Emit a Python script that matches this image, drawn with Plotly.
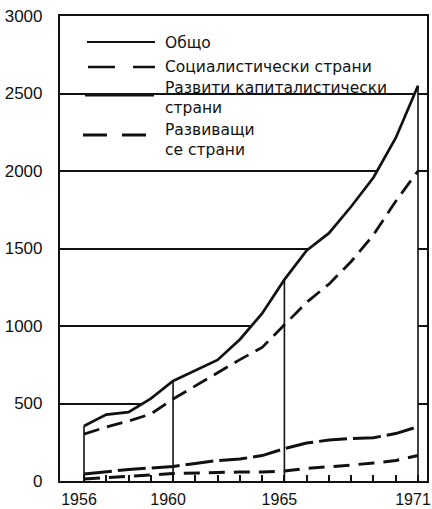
import plotly.graph_objects as go

# ---- data ----
years = list(range(1956, 1972))
total = [355, 428, 444, 532, 645, 715, 781, 913, 1081, 1299, 1488, 1599, 1771, 1958, 2213, 2550]
socialist = [303, 348, 387, 432, 529, 613, 700, 783, 862, 1008, 1153, 1270, 1416, 1588, 1805, 2000]
developed_cap = [45, 61, 74, 84, 94, 113, 132, 142, 164, 209, 245, 264, 274, 279, 306, 350]
developing = [13, 23, 32, 39, 48, 52, 52, 58, 58, 65, 81, 90, 103, 116, 132, 165]

series_names = ["Общо", "Социалистически страни",
                "Развити капиталистически<br>страни", "Развиващи<br>се страни"]
marked_years = [1956, 1960, 1965, 1971]
x_labels = {1956: "1956", 1960: "1960", 1965: "1965", 1971: "1971"}
y_ticks = [0, 500, 1000, 1500, 2000, 2500, 3000]

INK = "#111111"
W, H = 432, 509
PL, PR, PT, PB = 60, 427, 16, 481


def px2x(px):
    return (px - PL) / (PR - PL)


def py2y(py):
    return (PB - py) / (PB - PT)


fig = go.Figure()

# total with white fill (hides gridlines beneath the curve)
fig.add_trace(go.Scatter(x=years, y=total, mode="lines", fill="tozeroy",
                         fillcolor="white", line=dict(color=INK, width=2.7),
                         name=series_names[0], showlegend=False))

# vertical lines at the marked years, up to the total curve
vx, vy = [], []
for yr in marked_years:
    v = total[years.index(yr)]
    vx += [yr, yr, None]
    vy += [0, v, None]
fig.add_trace(go.Scatter(x=vx, y=vy, mode="lines", line=dict(color=INK, width=1.6),
                         showlegend=False, hoverinfo="skip"))

fig.add_trace(go.Scatter(x=years, y=socialist, mode="lines",
                         line=dict(color=INK, width=2.8, dash="16px,8px"),
                         name=series_names[1], showlegend=False))
fig.add_trace(go.Scatter(x=years, y=developed_cap, mode="lines",
                         line=dict(color=INK, width=3, dash="28px,6px"),
                         name=series_names[2], showlegend=False))
fig.add_trace(go.Scatter(x=years, y=developing, mode="lines",
                         line=dict(color=INK, width=3, dash="16px,9px"),
                         name=series_names[3], showlegend=False))

# ---- hand-built legend ----
shapes = [dict(type="rect", xref="paper", yref="paper",
               x0=px2x(78), x1=px2x(414), y0=py2y(163), y1=py2y(19),
               fillcolor="white", line=dict(width=0), layer="between")]
samples = [
    dict(x0=87, x1=155, y=42, width=2.2, dash="solid"),
    dict(x0=88, x1=155, y=67, width=2.6, dash="27px,18px"),
    dict(x0=85, x1=154, y=95, width=3.2, dash="solid"),
    dict(x0=83, x1=147, y=135, width=3.0, dash="24px,15px"),
]
for s in samples:
    shapes.append(dict(type="line", xref="paper", yref="paper",
                       x0=px2x(s["x0"]), x1=px2x(s["x1"]),
                       y0=py2y(s["y"]), y1=py2y(s["y"]),
                       line=dict(color=INK, width=s["width"], dash=s["dash"]),
                       layer="above"))

text_centres = [43, 67, 98.5, 139.5]
annotations = []
for txt, py in zip(series_names, text_centres):
    annotations.append(dict(text=txt, xref="paper", yref="paper",
                            x=px2x(164), y=py2y(py), xanchor="left", align="left",
                            yanchor="middle", showarrow=False, borderpad=0,
                            font=dict(family="DejaVu Sans", size=15.5, color=INK)))

fig.update_layout(
    width=W, height=H,
    margin=dict(l=PL, r=W - PR, t=PT, b=H - PB, autoexpand=False),
    paper_bgcolor="white", plot_bgcolor="white",
    showlegend=False,
    shapes=shapes, annotations=annotations,
    font=dict(family="Liberation Sans", size=17, color=INK),
)

x0 = 1956 - (84 - PL) / ((418 - 84) / 15)
x1 = 1971 + (PR - 418) / ((418 - 84) / 15)
fig.update_xaxes(range=[x0, x1], tickvals=years,
                 ticktext=[x_labels.get(y, "") for y in years],
                 tickfont=dict(size=16),
                 ticks="inside", ticklen=6, tickwidth=1.5, tickcolor=INK,
                 showgrid=False, zeroline=False, automargin=False,
                 showline=True, linewidth=2.2, linecolor=INK, mirror=True,
                 ticklabelshift=-5, ticklabeloverflow="allow",
                 ticklabelstandoff=3)
fig.update_yaxes(range=[0, 3000], tickvals=y_ticks,
                 ticktext=[str(v) for v in y_ticks], automargin=False,
                 ticks="", showgrid=True, gridcolor=INK, gridwidth=1.6,
                 zeroline=False, showline=True, linewidth=2.2, linecolor=INK,
                 mirror=True, ticklabelstandoff=12)

fig.write_html("out.html", config={"displayModeBar": False},
               post_script="document.body.style.margin='0';"
                           "document.body.style.overflow='hidden';")
